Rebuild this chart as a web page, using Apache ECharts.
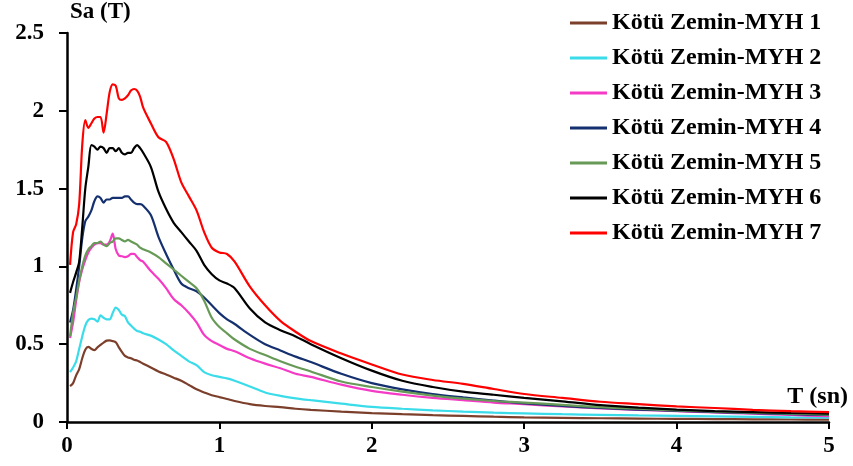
<!DOCTYPE html>
<html>
<head>
<meta charset="utf-8">
<script src="https://cdn.jsdelivr.net/npm/echarts@6/dist/echarts.min.js"></script>
<style>
html,body{margin:0;padding:0;background:#fff;}
#chart{width:853px;height:466px;}
</style>
</head>
<body>
<div id="chart"></div>
<script>
const periods = [0.02,0.04,0.06,0.08,0.1,0.12,0.14,0.16,0.18,0.2,0.22,0.24,0.26,0.28,0.3,0.32,0.34,0.36,0.38,0.4,0.42,0.44,0.46,0.48,0.5,0.55,0.6,0.65,0.7,0.75,0.8,0.85,0.9,0.95,1.0,1.05,1.1,1.2,1.3,1.4,1.5,1.6,1.8,2.0,2.2,2.4,2.6,2.8,3.0,3.25,3.5,3.75,4.0,4.25,4.5,4.75,5.0];

const names = ['Kötü Zemin-MYH 1','Kötü Zemin-MYH 2','Kötü Zemin-MYH 3','Kötü Zemin-MYH 4','Kötü Zemin-MYH 5','Kötü Zemin-MYH 6','Kötü Zemin-MYH 7'];
const colors = ['#7B3F2B','#3ADCEA','#F53AC6','#15306E','#679A57','#000000','#FF0000'];

const myh1 = [0.23,0.25,0.30,0.34,0.41,0.465,0.483,0.47,0.462,0.48,0.495,0.51,0.523,0.525,0.52,0.512,0.48,0.45,0.425,0.415,0.41,0.40,0.395,0.385,0.375,0.35,0.325,0.305,0.285,0.265,0.238,0.21,0.19,0.172,0.16,0.148,0.135,0.115,0.103,0.095,0.085,0.078,0.067,0.057,0.05,0.044,0.039,0.034,0.03,0.027,0.024,0.022,0.02,0.019,0.017,0.016,0.015];
const myh2 = [0.32,0.35,0.39,0.47,0.55,0.62,0.655,0.665,0.66,0.645,0.685,0.67,0.66,0.66,0.70,0.735,0.72,0.69,0.68,0.64,0.62,0.60,0.585,0.58,0.57,0.555,0.53,0.50,0.46,0.425,0.39,0.365,0.32,0.30,0.29,0.28,0.265,0.228,0.19,0.168,0.152,0.14,0.118,0.097,0.085,0.075,0.067,0.06,0.055,0.05,0.046,0.042,0.039,0.036,0.033,0.03,0.028];
const myh3 = [0.54,0.64,0.78,0.90,0.98,1.04,1.09,1.12,1.14,1.15,1.15,1.14,1.14,1.16,1.21,1.11,1.07,1.065,1.06,1.065,1.08,1.08,1.06,1.04,1.03,0.97,0.92,0.86,0.79,0.75,0.70,0.64,0.56,0.52,0.495,0.47,0.455,0.41,0.375,0.345,0.31,0.29,0.24,0.20,0.175,0.155,0.14,0.125,0.115,0.10,0.088,0.078,0.07,0.061,0.053,0.045,0.037];
const myh4 = [0.64,0.72,0.85,1.00,1.18,1.29,1.32,1.36,1.42,1.45,1.44,1.41,1.43,1.43,1.44,1.44,1.44,1.44,1.45,1.45,1.43,1.41,1.40,1.40,1.39,1.33,1.19,1.08,0.98,0.89,0.86,0.84,0.80,0.75,0.70,0.66,0.63,0.56,0.50,0.46,0.42,0.385,0.31,0.25,0.21,0.18,0.158,0.138,0.12,0.103,0.09,0.08,0.072,0.064,0.057,0.05,0.045];
const myh5 = [0.55,0.70,0.80,0.91,1.00,1.07,1.11,1.13,1.15,1.15,1.16,1.14,1.13,1.15,1.16,1.18,1.18,1.17,1.16,1.17,1.16,1.15,1.14,1.12,1.11,1.09,1.06,1.02,0.98,0.94,0.90,0.86,0.78,0.67,0.61,0.57,0.53,0.47,0.43,0.39,0.355,0.325,0.26,0.225,0.195,0.17,0.15,0.135,0.125,0.11,0.095,0.085,0.075,0.067,0.06,0.054,0.048];
const myh6 = [0.83,0.90,0.96,1.03,1.25,1.50,1.64,1.78,1.77,1.75,1.77,1.76,1.73,1.76,1.76,1.74,1.76,1.73,1.72,1.73,1.73,1.76,1.78,1.76,1.73,1.64,1.48,1.37,1.28,1.22,1.16,1.10,1.01,0.95,0.91,0.89,0.86,0.73,0.64,0.59,0.55,0.50,0.41,0.33,0.265,0.225,0.195,0.175,0.155,0.133,0.108,0.092,0.08,0.07,0.064,0.058,0.054];
const myh7 = [1.01,1.22,1.27,1.40,1.78,1.94,1.89,1.92,1.95,1.96,1.96,1.86,1.98,2.12,2.17,2.16,2.08,2.07,2.08,2.10,2.13,2.14,2.13,2.09,2.02,1.92,1.83,1.80,1.69,1.54,1.45,1.36,1.22,1.12,1.09,1.08,1.03,0.87,0.75,0.65,0.58,0.52,0.44,0.37,0.305,0.27,0.245,0.212,0.18,0.155,0.13,0.115,0.10,0.09,0.078,0.07,0.064];

const seriesValues = [myh1,myh2,myh3,myh4,myh5,myh6,myh7];
const yTicks = {min:0, max:2.5, interval:0.5};
const xTicks = {min:0, max:5, interval:1};

const font = '"Liberation Serif","Times New Roman",serif';

const chart = echarts.init(document.getElementById('chart'), null, {renderer:'canvas'});
chart.setOption({
  animation:false,
  backgroundColor:'#ffffff',
  color:colors,
  grid:{left:67, right:24, top:33, bottom:44, containLabel:false},
  legend:{
    orient:'vertical',
    left:565, top:6,
    icon:'rect',
    itemWidth:37, itemHeight:3, itemGap:11,
    textStyle:{fontFamily:font, fontWeight:'bold', fontSize:24, color:'#000', lineHeight:24},
    data:names
  },
  xAxis:{
    type:'value', min:xTicks.min, max:xTicks.max, interval:xTicks.interval,
    name:'T (sn)', nameLocation:'end', nameGap:19,
    nameTextStyle:{fontFamily:font, fontWeight:'bold', fontSize:24, color:'#000', align:'right', verticalAlign:'bottom', padding:[0,0,13,0]},
    axisLine:{show:true, onZero:false, lineStyle:{color:'#000', width:2.5}},
    axisTick:{show:true, inside:false, length:7, lineStyle:{color:'#000', width:2}},
    axisLabel:{fontFamily:font, fontWeight:'bold', fontSize:23, color:'#000', margin:13},
    splitLine:{show:false}
  },
  yAxis:{
    type:'value', min:yTicks.min, max:yTicks.max, interval:yTicks.interval,
    name:'Sa (T)', nameLocation:'end', nameGap:9,
    nameTextStyle:{fontFamily:font, fontWeight:'bold', fontSize:23, color:'#000', align:'left', verticalAlign:'bottom', padding:[0,0,0,3]},
    axisLine:{show:true, lineStyle:{color:'#000', width:2.5}},
    axisTick:{show:true, inside:false, length:8, lineStyle:{color:'#000', width:2}},
    axisLabel:{fontFamily:font, fontWeight:'bold', fontSize:23, color:'#000', margin:23},
    splitLine:{show:false}
  },
  series: seriesValues.map((vals,i)=>({
    name:names[i],
    type:'line',
    data:periods.map((t,j)=>[t, vals[j]]),
    symbol:'none',
    smooth:0.3,
    lineStyle:{width:2.2, color:colors[i]},
    itemStyle:{color:colors[i]}
  }))
});
</script>
</body>
</html>
